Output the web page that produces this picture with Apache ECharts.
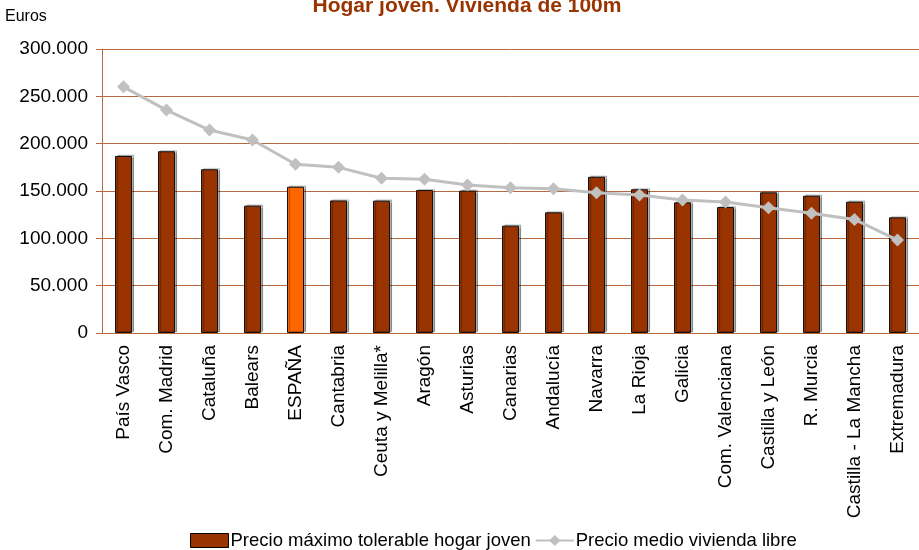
<!DOCTYPE html>
<html>
<head>
<meta charset="utf-8">
<script src="https://cdn.jsdelivr.net/npm/echarts@6/dist/echarts.min.js"></script>
<style>
  html, body { margin: 0; padding: 0; background: #fff; }
  #chart { width: 919px; height: 550px; }
</style>
</head>
<body>
<div id="chart"></div>
<script>
// regiones, ordenadas como en el original
const regiones = [
  'País Vasco', 'Com. Madrid', 'Cataluña', 'Balears', 'ESPAÑA', 'Cantabria',
  'Ceuta y Melilla*', 'Aragón', 'Asturias', 'Canarias', 'Andalucía', 'Navarra',
  'La Rioja', 'Galicia', 'Com. Valenciana', 'Castilla y León', 'R. Murcia',
  'Castilla - La Mancha', 'Extremadura'
]

// Precio máximo tolerable hogar joven (euros)
const precioMaximo = [
  187000, 192000, 173000, 134500, 154500, 140000,
  139800, 151000, 150300, 113400, 127500, 165000,
  151800, 138000, 133000, 148600, 145000,
  138700, 122200
]

// Precio medio vivienda libre (euros)
const precioMedio = [
  260000, 235500, 214400, 203900, 178200, 175000,
  163400, 162300, 156300, 153500, 152500, 148200,
  145800, 140500, 138400, 132400, 126400,
  120000, 98200
]

const gridColor = '#b8693f'
const fontFam = '"Liberation Sans", Arial, sans-serif'

const fmtMiles = v => String(v).replace(/\B(?=(\d{3})+(?!\d))/g, '.')

const chart = echarts.init(document.getElementById('chart'))

chart.setOption({
  animation: false,
  textStyle: { fontFamily: fontFam },
  title: {
    text: 'Hogar joven. Vivienda de 100m',
    left: 462,
    textAlign: 'center',
    top: -9,
    textStyle: { color: '#993300', fontSize: 21, fontWeight: 'bold', fontFamily: fontFam },
  },
  graphic: [
    {
      type: 'text',
      left: 5,
      top: 9,
      style: { text: 'Euros', fontSize: 16, fill: '#000', fontFamily: fontFam },
    },
  ],
  legend: {
    top: 526,
    left: 185,
    itemWidth: 38,
    itemHeight: 14,
    itemGap: 4,
    textStyle: { fontSize: 18.5, color: '#000', fontFamily: fontFam, padding: [0, 0, 0, -3] },
    data: [
      { name: 'Precio máximo tolerable hogar joven', icon: 'rect',
        itemStyle: { color: '#993300', borderColor: '#000', borderWidth: 1 } },
      { name: 'Precio medio vivienda libre' },
    ],
  },
  grid: { left: 102, top: 49, width: 821, height: 284 },
  xAxis: {
    type: 'category',
    data: regiones,
    axisLine: { lineStyle: { color: gridColor } },
    axisTick: { show: false },
    axisLabel: { rotate: 90, fontSize: 19, color: '#000', margin: 12, interval: 0, fontFamily: fontFam },
  },
  yAxis: {
    type: 'value',
    min: 0,
    max: 300000,
    interval: 50000,
    axisLine: { show: true, lineStyle: { color: gridColor } },
    axisTick: { show: true, length: 6, lineStyle: { color: gridColor } },
    splitLine: { lineStyle: { color: gridColor, width: 1 } },
    axisLabel: { fontSize: 19, color: '#000', margin: 14, formatter: fmtMiles, fontFamily: fontFam },
  },
  series: [
    {
      name: 'Precio máximo tolerable hogar joven',
      type: 'bar',
      barWidth: 17,
      data: precioMaximo.map((v, i) => regiones[i] === 'ESPAÑA'
        ? { value: v, itemStyle: { color: '#ff6600' } }
        : v),
      itemStyle: {
        color: '#993300',
        borderColor: '#111',
        borderWidth: 1,
        shadowColor: 'rgba(0,0,0,0.3)',
        shadowOffsetX: 2,
        shadowOffsetY: -1,
        shadowBlur: 1,
      },
    },
    {
      name: 'Precio medio vivienda libre',
      type: 'line',
      data: precioMedio,
      symbol: 'diamond',
      symbolSize: 13,
      lineStyle: { color: '#c0c0c0', width: 3 },
      itemStyle: { color: '#c0c0c0' },
      z: 3,
    },
  ],
})
</script>
</body>
</html>
